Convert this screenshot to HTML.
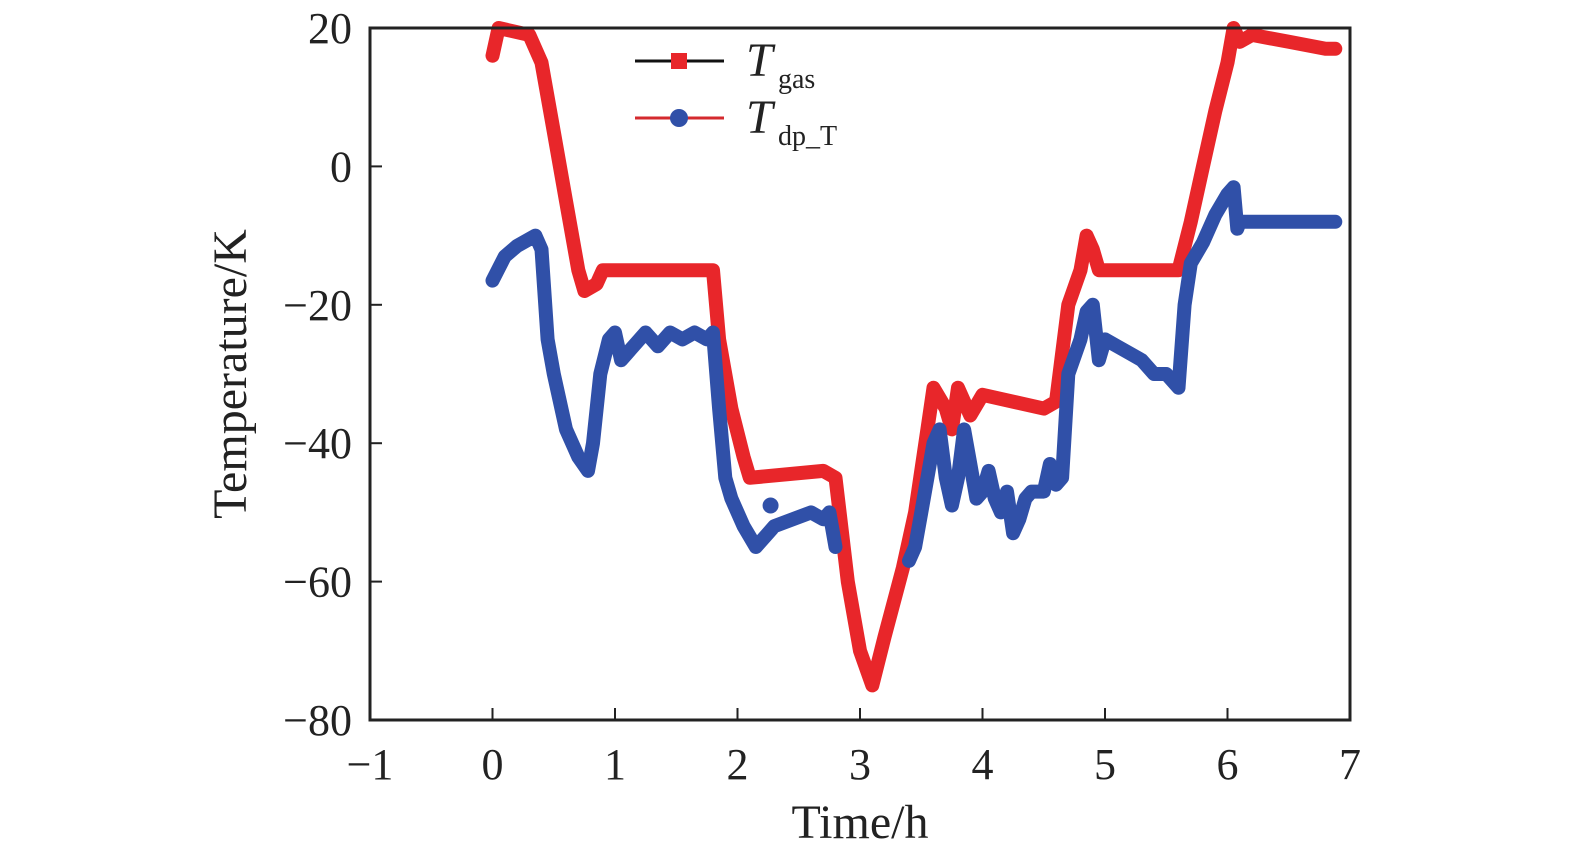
<!DOCTYPE html>
<html><head><meta charset="utf-8"><style>
body{margin:0;background:#fff}
svg text{font-family:"Liberation Serif",serif;fill:#222}
</style></head><body>
<svg id="chart" width="1575" height="855" viewBox="0 0 1575 855" xmlns="http://www.w3.org/2000/svg">
<g id="series"></g>
<rect x="370" y="28" width="980" height="692" fill="none" stroke="#222" stroke-width="3"/>
<g id="axes"></g>
<text x="860" y="838" font-size="48" text-anchor="middle">Time/h</text>
<text transform="translate(246,374) rotate(-90)" font-size="48" text-anchor="middle">Temperature/K</text>
<g>
<g>
<line x1="635" y1="61" x2="724" y2="61" stroke="#111" stroke-width="3"/>
<rect x="671" y="53" width="16" height="16" fill="#e8262a"/>
<text x="746" y="76" font-size="48" font-style="italic">T</text>
<text x="778" y="88" font-size="28">gas</text>
</g>
<g>
<line x1="635" y1="118" x2="724" y2="118" stroke="#d42a2e" stroke-width="3"/>
<circle cx="679" cy="118" r="9" fill="#3050a8"/>
<text x="746" y="133" font-size="48" font-style="italic">T</text>
<text x="778" y="145" font-size="28">dp_T</text>
</g>
</g>
</svg>
<script>
const xTicks=[-1,0,1,2,3,4,5,6,7];
const yTicks=[20,0,-20,-40,-60,-80];
const yTickLabels=["20","0","\u221220","\u221240","\u221260","\u221280"];
const gasTime=[0,0.05,0.3,0.4,0.5,0.6,0.7,0.75,0.85,0.9,1.8,1.85,1.95,2.05,2.1,2.7,2.8,2.9,3.0,3.1,3.2,3.35,3.45,3.55,3.6,3.7,3.75,3.8,3.9,4.0,4.5,4.6,4.7,4.8,4.85,4.9,4.95,5.6,5.7,5.8,5.9,6.0,6.05,6.1,6.2,6.5,6.8,6.88];
const gasTemp=[16,20,19,15,5,-5,-15,-18,-17,-15,-15,-25,-35,-42,-45,-44,-45,-60,-70,-75,-68,-58,-50,-38,-32,-35,-38,-32,-36,-33,-35,-34,-20,-15,-10,-12,-15,-15,-8,0,8,15,20,18,19,18,17,17];
const dpTime=[0,0.1,0.2,0.35,0.4,0.45,0.5,0.6,0.7,0.78,0.82,0.88,0.95,1.0,1.05,1.1,1.2,1.25,1.35,1.45,1.55,1.65,1.75,1.8,1.85,1.9,1.95,2.05,2.15,2.25,2.3,2.45,2.6,2.7,2.75,2.8,3.1,3.4,3.45,3.5,3.55,3.6,3.65,3.7,3.75,3.8,3.85,3.9,3.95,4.0,4.05,4.1,4.15,4.2,4.25,4.3,4.35,4.4,4.5,4.55,4.6,4.65,4.7,4.8,4.85,4.9,4.95,5.0,5.1,5.2,5.3,5.4,5.5,5.6,5.65,5.7,5.8,5.9,6.0,6.05,6.08,6.1,6.5,6.88];
const dpTemp=[-16.5,-13,-11.5,-10,-12,-25,-30,-38,-42,-44,-40,-30,-25,-24,-28,-27,-25,-24,-26,-24,-25,-24,-25,-24,-35,-45,-48,-52,-55,-53,-52,-51,-50,-51,-50,-55,NaN,-57,-55,-50,-45,-40,-38,-45,-49,-45,-38,-43,-48,-47,-44,-48,-50,-47,-53,-51,-48,-47,-47,-43,-46,-45,-30,-25,-21,-20,-28,-25,-26,-27,-28,-30,-30,-32,-20,-14,-11,-7,-4,-3,-9,-8,-8,-8];
const dpExtraTime=[2.27];
const dpExtraTemp=[-49];
const NS="http://www.w3.org/2000/svg";
const X=v=>492.5+v*122.5;
const Y=v=>28+(20-v)*6.92;
const axes=document.getElementById('axes');
const series=document.getElementById('series');
xTicks.forEach(t=>{
 const l=document.createElementNS(NS,'line');
 
 
 l.setAttribute('x1',X(t));l.setAttribute('x2',X(t));l.setAttribute('y1',720);l.setAttribute('y2',708);
 l.setAttribute('stroke','#222');l.setAttribute('stroke-width','2');axes.appendChild(l);
 const tx=document.createElementNS(NS,'text');
 
 
 tx.setAttribute('x',X(t));tx.setAttribute('y',779);tx.setAttribute('font-size','44');tx.setAttribute('text-anchor','middle');
 tx.textContent=t<0?'\u2212'+(-t):String(t);axes.appendChild(tx);
});
yTicks.forEach((t,i)=>{
 const l=document.createElementNS(NS,'line');
 
 
 l.setAttribute('x1',370);l.setAttribute('x2',382);l.setAttribute('y1',Y(t));l.setAttribute('y2',Y(t));
 l.setAttribute('stroke','#222');l.setAttribute('stroke-width','2');axes.appendChild(l);
 const tx=document.createElementNS(NS,'text');
 
 
 tx.setAttribute('x',352);tx.setAttribute('y',Y(t)+15);tx.setAttribute('font-size','44');tx.setAttribute('text-anchor','end');
 tx.textContent=yTickLabels[i];axes.appendChild(tx);
});
function drawLine(ts,vs,color,w,name){
 let segs=[],cur=[];
 ts.forEach((t,i)=>{if(isNaN(vs[i])){if(cur.length)segs.push(cur);cur=[];}else cur.push(X(t).toFixed(1)+','+Y(vs[i]).toFixed(1));});
 if(cur.length)segs.push(cur);
 segs.forEach(s=>{
  const p=document.createElementNS(NS,'polyline');
  
  
  p.setAttribute('points',s.join(' '));p.setAttribute('fill','none');p.setAttribute('stroke',color);
  p.setAttribute('stroke-width',w);p.setAttribute('stroke-linejoin','round');p.setAttribute('stroke-linecap','round');
  series.appendChild(p);
 });
}
drawLine(gasTime,gasTemp,'#e8262a',14,'series-tgas');
drawLine(dpTime,dpTemp,'#3050a8',14,'series-tdp');
dpExtraTime.forEach((t,i)=>{
 const c=document.createElementNS(NS,'circle');
 
 
 c.setAttribute('cx',X(t));c.setAttribute('cy',Y(dpExtraTemp[i]));c.setAttribute('r',8);c.setAttribute('fill','#3050a8');
 series.appendChild(c);
});
</script>
</body></html>
